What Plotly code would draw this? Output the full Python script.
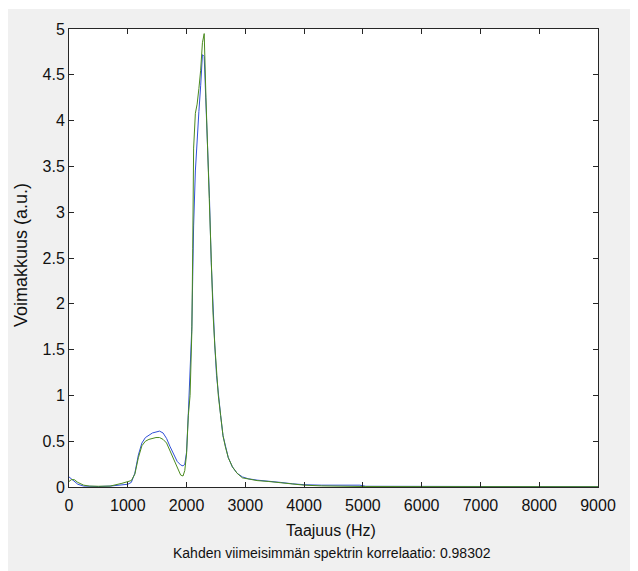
import plotly.graph_objects as go

# Frequency axis (Hz)
freq_hz = [0, 40, 90, 150, 250, 350, 500, 700, 900, 1000, 1060, 1120, 1180, 1240,
           1300, 1360, 1420, 1480, 1540, 1600, 1660, 1720, 1780, 1840, 1900, 1940,
           1970, 2000, 2030, 2060, 2090, 2105, 2120, 2150, 2180, 2210, 2240, 2270,
           2300, 2330, 2360, 2390, 2420, 2450, 2480, 2510, 2540, 2580, 2620, 2660,
           2710, 2780, 2860, 2950, 3050, 3200, 3400, 3600, 3800, 4000, 4300, 4600,
           4950, 5050, 6000, 7000, 8000, 9000]

# Earlier spectrum (blue)
power_prev = [0.11, 0.09, 0.06, 0.03, 0.01, 0.005, 0.005, 0.01, 0.02, 0.03, 0.05,
              0.15, 0.35, 0.48, 0.54, 0.57, 0.59, 0.60, 0.61, 0.59, 0.53, 0.44,
              0.35, 0.28, 0.24, 0.23, 0.25, 0.38, 0.80, 1.25, 1.75, 2.30, 2.85,
              3.45, 3.85, 4.10, 4.38, 4.72, 4.70, 4.22, 3.60, 3.15, 2.45, 1.90,
              1.55, 1.22, 1.00, 0.78, 0.56, 0.44, 0.32, 0.22, 0.15, 0.11, 0.09,
              0.075, 0.065, 0.05, 0.035, 0.025, 0.02, 0.02, 0.02, 0.008, 0.005,
              0.004, 0.003, 0.003]

# Latest spectrum (green)
power_last = [0.06, 0.08, 0.08, 0.05, 0.02, 0.01, 0.008, 0.01, 0.04, 0.06, 0.07,
              0.14, 0.32, 0.45, 0.50, 0.52, 0.53, 0.54, 0.54, 0.52, 0.48, 0.39,
              0.29, 0.21, 0.13, 0.12, 0.18, 0.36, 0.78, 1.00, 1.70, 2.60, 3.70,
              4.08, 4.18, 4.35, 4.55, 4.85, 4.95, 4.25, 3.60, 3.20, 2.45, 1.90,
              1.55, 1.22, 1.00, 0.78, 0.56, 0.44, 0.32, 0.22, 0.15, 0.10, 0.085,
              0.07, 0.06, 0.045, 0.03, 0.02, 0.012, 0.008, 0.006, 0.005, 0.004,
              0.003, 0.003, 0.003]

x_ticks = [0, 1000, 2000, 3000, 4000, 5000, 6000, 7000, 8000, 9000]
y_ticks = [0, 0.5, 1, 1.5, 2, 2.5, 3, 3.5, 4, 4.5, 5]
y_tick_text = ["0", "0.5", "1", "1.5", "2", "2.5", "3", "3.5", "4", "4.5", "5"]

x_title = "Taajuus (Hz)"
y_title = "Voimakkuus (a.u.)"
footer = "Kahden viimeisimmän spektrin korrelaatio: 0.98302"

FONT = "Liberation Sans, Arial, sans-serif"

fig = go.Figure()
fig.add_trace(go.Scatter(x=freq_hz, y=power_prev, mode="lines",
                         line=dict(color="#3050d8", width=1), showlegend=False))
fig.add_trace(go.Scatter(x=freq_hz, y=power_last, mode="lines",
                         line=dict(color="#4a8a1e", width=1), showlegend=False))

axis_common = dict(showgrid=False, zeroline=False, showline=True, mirror="ticks",
                   linecolor="#262626", linewidth=1, ticks="inside", ticklen=5,
                   tickcolor="#262626", tickwidth=1,
                   tickfont=dict(family=FONT, size=16, color="#111111"))

fig.update_xaxes(range=[0, 9000], tickvals=x_ticks, ticklabelstandoff=4, **axis_common)
fig.update_yaxes(range=[0, 5], tickvals=y_ticks, ticktext=y_tick_text, **axis_common)

# page offset of the figure (browser body margin)
OFF = 8
PL, PR, PT, PB = 69, 598, 29, 487          # plot area in page pixels
W, H = 638 - OFF, 571 - OFF
L, T = PL - OFF, PT - OFF
R, B = W - (PR - OFF), H - (PB - OFF)
pw, ph = PR - PL, PB - PT

def px_x(px):
    return (px - PL) / pw

def px_y(py):
    return (PB - py) / ph

fig.update_layout(
    width=W, height=H,
    margin=dict(l=L, r=R, t=T, b=B, pad=0),
    paper_bgcolor="#f0f0f0",
    plot_bgcolor="#ffffff",
    shapes=[
        dict(type="rect", xref="paper", yref="paper", x0=px_x(0), x1=px_x(700),
             y0=px_y(9), y1=px_y(0), fillcolor="#ffffff", line=dict(width=0), layer="below"),
    ],
    annotations=[
        dict(text=x_title, xref="paper", yref="paper", x=px_x(331), y=px_y(530),
             xanchor="center", yanchor="middle", showarrow=False,
             font=dict(family=FONT, size=16, color="#111111")),
        dict(text=y_title, xref="paper", yref="paper", x=px_x(21), y=px_y(255),
             xanchor="center", yanchor="middle", showarrow=False, textangle=-90,
             font=dict(family=FONT, size=18, color="#111111")),
        dict(text=footer, xref="paper", yref="paper", x=px_x(332), y=px_y(553),
             xanchor="center", yanchor="middle", showarrow=False,
             font=dict(family=FONT, size=14, color="#111111")),
    ],
)

fig.write_html("out.html")
